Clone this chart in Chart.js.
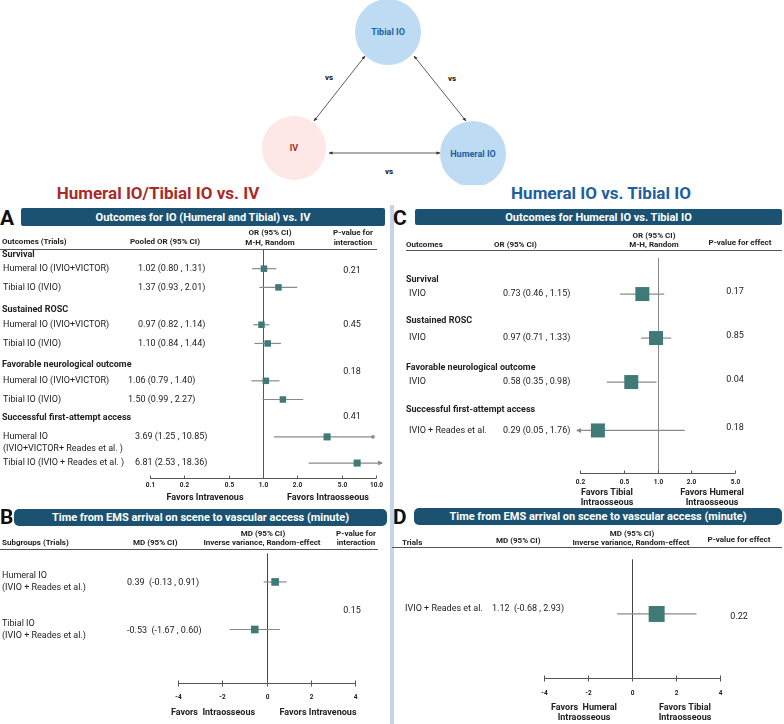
<!DOCTYPE html>
<html lang="en">
<head>
<meta charset="UTF-8">
<title>Humeral IO / Tibial IO vs. IV</title>
<script src="https://cdn.jsdelivr.net/npm/chart.js"></script>
<style>
    body { margin: 0; background: #fff; font-family: Roboto, Arial, sans-serif; }
    #page { position: relative; width: 784px; height: 724px; overflow: hidden; }
    .t { position: absolute; white-space: nowrap; line-height: 1; color: #222; }
    .bar { position: absolute; background: #1b5272; color: #fff; font-weight: bold; font-size: 11px;
           display: flex; align-items: center; justify-content: center; }
    .rule { position: absolute; height: 1px; background: #555; }
    canvas { position: absolute; }
</style>
</head>
<body>
<div id="page">
    <!-- network diagram -->
    <svg width="784" height="185" style="position:absolute;left:0;top:0">
        <defs>
            <marker id="ah" viewBox="0 0 10 10" refX="9" refY="5" markerWidth="5" markerHeight="5" orient="auto-start-reverse">
                <path d="M0,1 L10,5 L0,9 z" fill="#333"/>
            </marker>
        </defs>
        <circle cx="388" cy="32" r="33" fill="#bddcf4"/>
        <circle cx="294" cy="148" r="32" fill="#fde7e7"/>
        <circle cx="473" cy="154" r="33" fill="#bddcf4"/>
        <line x1="365" y1="56" x2="314" y2="121" stroke="#333" stroke-width="0.8" marker-start="url(#ah)" marker-end="url(#ah)"/>
        <line x1="414" y1="56" x2="466" y2="121" stroke="#333" stroke-width="0.8" marker-start="url(#ah)" marker-end="url(#ah)"/>
        <line x1="329" y1="153" x2="440" y2="153" stroke="#333" stroke-width="0.8" marker-start="url(#ah)" marker-end="url(#ah)"/>
        <g font-family="Roboto" font-weight="bold" text-anchor="middle" dominant-baseline="central">
            <text x="388" y="32" font-size="9" fill="#1f5f9e">Tibial IO</text>
            <text x="294" y="148" font-size="9" fill="#b22a2a">IV</text>
            <text x="473" y="154" font-size="9" fill="#1f5f9e">Humeral IO</text>
            <text x="329" y="77" font-size="8" fill="#111">vs</text>
            <text x="452" y="78" font-size="8" fill="#111">vs</text>
            <text x="389" y="171" font-size="8" fill="#111">vs</text>
        </g>
    </svg>

    <div style="position:absolute;left:390px;top:205px;width:4px;height:519px;background:#c4d5e8"></div>

    <div class="bar" style="left:21px;top:208px;width:364px;height:18px;border-radius:2px">Outcomes for IO (Humeral and Tibial) vs. IV</div>
    <div class="bar" style="left:415px;top:209px;width:367px;height:16px;border-radius:2px">Outcomes for Humeral IO vs. Tibial IO</div>
    <div class="bar" style="left:14px;top:509px;width:373px;height:17px;border-radius:5px">Time from EMS arrival on scene to vascular access (minute)</div>
    <div class="bar" style="left:414px;top:508px;width:368px;height:17px;border-radius:5px">Time from EMS arrival on scene to vascular access (minute)</div>

    <div class="rule" style="left:0;top:249px;width:377px"></div>
    <div class="rule" style="left:406px;top:250px;width:376px"></div>
    <div class="rule" style="left:0;top:549px;width:378px"></div>
    <div class="rule" style="left:392px;top:547px;width:390px"></div>

    <canvas id="chartA" width="390" height="266" style="left:0;top:244px"></canvas>
    <canvas id="chartC" width="392" height="262" style="left:392px;top:248px"></canvas>
    <canvas id="chartB" width="390" height="176" style="left:0;top:548px"></canvas>
    <canvas id="chartD" width="392" height="176" style="left:392px;top:548px"></canvas>
</div>

<script>
    // ---- data: panel A (IO vs IV, OR) ----
    var groupsA = ['Survival', 'Sustained ROSC', 'Favorable neurological outcome', 'Successful first-attempt access'];
    var labelsA = ['Humeral IO (IVIO+VICTOR)', 'Tibial IO (IVIO)',
                   'Humeral IO (IVIO+VICTOR)', 'Tibial IO (IVIO)',
                   'Humeral IO (IVIO+VICTOR)', 'Tibial IO (IVIO)',
                   'Humeral IO\n(IVIO+VICTOR+ Reades et al. )', 'Tibial IO (IVIO + Reades et al. )'];
    var orA = [1.02, 1.37, 0.97, 1.10, 1.06, 1.50, 3.69, 6.81];
    var loA = [0.80, 0.93, 0.82, 0.84, 0.79, 0.99, 1.25, 2.53];
    var hiA = [1.31, 2.01, 1.14, 1.44, 1.40, 2.27, 10.85, 18.36];
    var groupOfA = [0, 0, 1, 1, 2, 2, 3, 3];
    var pA = ['0.21', '0.45', '0.18', '0.41'];
    var ticksA = [0.1, 0.2, 0.5, 1.0, 2.0, 5.0, 10.0];
    var tickLabelsA = ['0.1', '0.2', '0.5', '1.0', '2.0', '5.0', '10.0'];

    // ---- data: panel C (humeral vs tibial, OR) ----
    var groupsC = ['Survival', 'Sustained ROSC', 'Favorable neurological outcome', 'Successful first-attempt access'];
    var labelsC = ['IVIO', 'IVIO', 'IVIO', 'IVIO + Reades et al.'];
    var orC = [0.73, 0.97, 0.58, 0.29];
    var loC = [0.46, 0.71, 0.35, 0.05];
    var hiC = [1.15, 1.33, 0.98, 1.76];
    var pC = ['0.17', '0.85', '0.04', '0.18'];
    var ticksC = [0.2, 0.5, 1.0, 2.0, 5.0];
    var tickLabelsC = ['0.2', '0.5', '1.0', '2.0', '5.0'];

    // ---- data: panel B (time to access, MD) ----
    var labelsB = ['Humeral IO\n(IVIO + Reades et al.)', 'Tibial IO\n(IVIO + Reades et al.)'];
    var mdB = [0.39, -0.53];
    var loB = [-0.13, -1.67];
    var hiB = [0.91, 0.60];
    var pB = '0.15';
    var ticksB = [-4, -2, 0, 2, 4];

    // ---- data: panel D (time to access, humeral vs tibial) ----
    var labelsD = ['IVIO + Reades et al.'];
    var mdD = [1.12];
    var loD = [-0.68];
    var hiD = [2.93];
    var pD = '0.22';
    var ticksD = [-4, -2, 0, 2, 4];

    // ---- page text ----
    var page = document.getElementById('page');
    function put(x, y, s, o) {
        o = o || {};
        var d = document.createElement('div');
        d.className = 't';
        d.textContent = s;
        d.style.left = x + 'px';
        d.style.top = y + 'px';
        d.style.fontSize = (o.size || 8) + 'px';
        d.style.fontWeight = o.bold === false ? 'normal' : 'bold';
        if (o.color) d.style.color = o.color;
        d.style.transform = o.center ? 'translate(-50%,-50%)' : 'translateY(-50%)';
        page.appendChild(d);
    }
    put(158, 193, 'Humeral IO/Tibial IO vs. IV', {size: 17, color: '#a82a2a', center: true});
    put(601, 193, 'Humeral IO vs. Tibial IO', {size: 17, color: '#1f5f9e', center: true});
    put(0, 218, 'A', {size: 21, color: '#111'});
    put(393, 218, 'C', {size: 21, color: '#111'});
    put(0, 517, 'B', {size: 21, color: '#111'});
    put(393, 517, 'D', {size: 21, color: '#111'});

    put(2, 242, 'Outcomes (Trials)');
    put(130, 242, 'Pooled OR (95% CI)');
    put(270, 233, 'OR (95% CI)', {center: true});
    put(270, 243, 'M-H, Random', {center: true});
    put(353, 233, 'P-value for', {center: true});
    put(353, 243, 'interaction', {center: true});

    put(406, 245, 'Outcomes');
    put(494, 245, 'OR (95% CI)');
    put(654, 236, 'OR (95% CI)', {center: true});
    put(654, 245, 'M-H, Random', {center: true});
    put(740, 243, 'P-value for effect', {center: true});

    put(2, 543, 'Subgroups (Trials)');
    put(133, 543, 'MD (95% CI)');
    put(263, 534, 'MD (95% CI)', {center: true});
    put(262, 543, 'Inverse variance, Random-effect', {center: true});
    put(356, 534, 'P-value for', {center: true});
    put(356, 543, 'interaction', {center: true});

    put(402, 543, 'Trials');
    put(496, 541, 'MD (95% CI)');
    put(632, 534, 'MD (95% CI)', {center: true});
    put(631, 543, 'Inverse variance, Random-effect', {center: true});
    put(739, 540, 'P-value for effect', {center: true});

    // ---- forest plot drawing ----
    var SQ = '#3f7a78';
    function ci(est, lo, hi, gap) {
        return est.toFixed(2) + (gap || ' ') + '(' + lo.toFixed(2) + ' , ' + hi.toFixed(2) + ')';
    }
    function font(size, bold) { return (bold ? 'bold ' : '') + size + 'px Roboto'; }

    function forestPlugin(o) {
        return {
            id: 'forest',
            beforeDatasetsDraw: function (chart) {
                var ctx = chart.ctx, a = chart.chartArea, x = chart.scales.x, y = chart.scales.y;
                ctx.save();
                ctx.strokeStyle = o.refColor;
                ctx.lineWidth = 1;
                var x0 = Math.round(x.getPixelForValue(o.ref)) + 0.5;
                ctx.beginPath(); ctx.moveTo(x0, a.top); ctx.lineTo(x0, a.bottom); ctx.stroke();

                ctx.strokeStyle = '#8a8a8a';
                ctx.fillStyle = '#8a8a8a';
                ctx.lineWidth = 1.2;
                o.lo.forEach(function (lo, i) {
                    var hi = o.hi[i];
                    var yy = y.getPixelForValue(o.rowPos[i]);
                    var x1 = x.getPixelForValue(Math.max(lo, x.min));
                    var x2 = x.getPixelForValue(Math.min(hi, x.max));
                    if (lo < x.min) x1 = a.left - 3;
                    if (hi > x.max) x2 = hi / x.max > 1.2 ? a.right + 6 : a.right - 3;
                    ctx.beginPath(); ctx.moveTo(x1, yy); ctx.lineTo(x2, yy); ctx.stroke();
                    if (lo < x.min) arrow(ctx, x1, yy, -1);
                    if (hi > x.max) {
                        if (hi / x.max > 1.2) arrow(ctx, x2, yy, 1);
                        else { ctx.beginPath(); ctx.arc(x2, yy, 1.8, 0, 2 * Math.PI); ctx.fill(); }
                    }
                });
                ctx.restore();
            },
            afterDraw: function (chart) {
                var ctx = chart.ctx, a = chart.chartArea, x = chart.scales.x, y = chart.scales.y;
                ctx.save();
                ctx.textBaseline = 'middle';
                // row texts
                o.texts.forEach(function (t) {
                    ctx.font = font(t.size || 9, t.bold);
                    ctx.fillStyle = '#222';
                    ctx.textAlign = t.align || 'left';
                    var yy = y.getPixelForValue(t.pos);
                    t.s.split('\n').forEach(function (line, k) { ctx.fillText(line, t.x, yy + k * 12); });
                });
                // axis
                var ay = Math.round(a.bottom) + 0.5;
                var xa = x.getPixelForValue(o.ticks[0]), xb = x.getPixelForValue(o.ticks[o.ticks.length - 1]);
                ctx.strokeStyle = '#555';
                ctx.lineWidth = 1;
                ctx.beginPath(); ctx.moveTo(xa, ay); ctx.lineTo(xb, ay); ctx.stroke();
                ctx.font = font(6.5, true);
                ctx.textAlign = 'center';
                ctx.fillStyle = '#222';
                o.ticks.forEach(function (v, i) {
                    var px = Math.round(x.getPixelForValue(v)) + 0.5;
                    ctx.beginPath(); ctx.moveTo(px, ay - o.tickUp); ctx.lineTo(px, ay + o.tickDown); ctx.stroke();
                    ctx.fillText(o.tickLabels[i], px, ay + o.tickGap);
                });
                ctx.font = font(9, true);
                o.favors.forEach(function (f) {
                    f.s.split('\n').forEach(function (line, k) { ctx.fillText(line, f.x, ay + o.favGap + k * 10); });
                });
                ctx.restore();
            }
        };
    }
    function arrow(ctx, px, py, dir) {
        ctx.beginPath();
        ctx.moveTo(px + dir * 1, py);
        ctx.lineTo(px - dir * 4, py - 2.5);
        ctx.lineTo(px - dir * 4, py + 2.5);
        ctx.closePath();
        ctx.fill();
    }

    function forest(id, o) {
        return new Chart(document.getElementById(id), {
            type: 'scatter',
            data: {
                datasets: [{
                    data: o.rowPos.map(function (r, i) { return {x: o.est[i], y: r}; }),
                    pointStyle: 'rect',
                    pointRadius: o.radius,
                    backgroundColor: SQ,
                    borderWidth: 0,
                    clip: false
                }]
            },
            options: {
                responsive: false,
                animation: false,
                events: [],
                layout: {padding: o.pad},
                plugins: {legend: {display: false}, tooltip: {enabled: false}},
                scales: {
                    x: {type: o.log ? 'logarithmic' : 'linear', min: o.xmin, max: o.xmax, display: false},
                    y: {type: 'linear', reverse: true, min: o.ymin, max: o.ymax, display: false}
                }
            },
            plugins: [forestPlugin(o)]
        });
    }

    // panel A layout
    var rowPosA = [0, 1, 3, 4, 6, 7, 9, 10.4];
    var headPosA = [-0.73, 2.21, 5.15, 7.99];
    var pPosA = [0.12, 3, 5.5, 7.93];
    var valXA = [138, 138, 128, 135];
    var textsA = [];
    groupsA.forEach(function (g, k) {
        textsA.push({s: g, x: 2, pos: headPosA[k], bold: true});
        textsA.push({s: pA[k], x: 352, pos: pPosA[k], align: 'center'});
    });
    labelsA.forEach(function (l, i) {
        textsA.push({s: l, x: 3, pos: rowPosA[i]});
        textsA.push({s: ci(orA[i], loA[i], hiA[i]), x: valXA[groupOfA[i]], pos: rowPosA[i]});
    });
    forest('chartA', {
        log: true, xmin: 0.1, xmax: 10, ymin: -1, ymax: 11.2,
        pad: {left: 150, right: 14, top: 6, bottom: 32},
        rowPos: rowPosA, est: orA, lo: loA, hi: hiA,
        radius: [4.6, 4.6, 4.6, 4.6, 4.6, 4.6, 5, 5],
        ref: 1, refColor: '#555',
        ticks: ticksA, tickLabels: tickLabelsA, tickUp: 3, tickDown: 0, tickGap: 7,
        favors: [{s: 'Favors Intravenous', x: 205}, {s: 'Favors Intraosseous', x: 328}], favGap: 19,
        texts: textsA
    });

    // panel C layout
    var rowPosC = [0, 1, 2, 3.1];
    var headPosC = [-0.33, 0.6, 1.67, 2.64];
    var textsC = [];
    groupsC.forEach(function (g, k) {
        textsC.push({s: g, x: 14, pos: headPosC[k], bold: true});
        textsC.push({s: labelsC[k], x: 17, pos: rowPosC[k]});
        textsC.push({s: ci(orC[k], loC[k], hiC[k]), x: 111, pos: rowPosC[k]});
        textsC.push({s: pC[k], x: 343, pos: rowPosC[k] - 0.06, align: 'center'});
    });
    forest('chartC', {
        log: true, xmin: 0.2, xmax: 5, ymin: -0.822, ymax: 4.067,
        pad: {left: 188, right: 49, top: 5, bottom: 37},
        rowPos: rowPosC, est: orC, lo: loC, hi: hiC,
        radius: 9.9,
        ref: 1, refColor: '#888',
        ticks: ticksC, tickLabels: tickLabelsC, tickUp: 3, tickDown: 0, tickGap: 9,
        favors: [{s: 'Favors Tibial\nIntraosseous', x: 215}, {s: 'Favors Humeral\nIntraosseous', x: 320}], favGap: 19,
        texts: textsC
    });

    // panel B layout
    var rowPosB = [0, 1];
    var textsB = [];
    labelsB.forEach(function (l, i) {
        textsB.push({s: l, x: 2, pos: rowPosB[i] - 0.12});
        textsB.push({s: ci(mdB[i], loB[i], hiB[i], '  '), x: 127, pos: rowPosB[i] + 0.02});
    });
    textsB.push({s: pB, x: 352, pos: 0.6, align: 'center'});
    forest('chartB', {
        log: false, xmin: -4, xmax: 4, ymin: -0.6, ymax: 2.125,
        pad: {left: 178, right: 35, top: 4, bottom: 41},
        rowPos: rowPosB, est: mdB, lo: loB, hi: hiB,
        radius: 5.4,
        ref: 0, refColor: '#444',
        ticks: ticksB, tickLabels: ticksB.map(String), tickUp: 3, tickDown: 3, tickGap: 14,
        favors: [{s: 'Favors  Intraosseous', x: 213}, {s: 'Favors Intravenous', x: 318}], favGap: 29,
        texts: textsB
    });

    // panel D layout
    var textsD = [
        {s: labelsD[0], x: 13, pos: -0.12},
        {s: ci(mdD[0], loD[0], hiD[0], '  '), x: 100, pos: -0.12},
        {s: pD, x: 347, pos: 0.06, align: 'center'}
    ];
    forest('chartD', {
        log: false, xmin: -4, xmax: 4, ymin: -1.21, ymax: 1.417,
        pad: {left: 152, right: 64, top: 4, bottom: 46},
        rowPos: [0], est: mdD, lo: loD, hi: hiD,
        radius: 11.3,
        ref: 0, refColor: '#444',
        ticks: ticksD, tickLabels: ticksD.map(String), tickUp: 3, tickDown: 3, tickGap: 15,
        favors: [{s: 'Favors  Humeral\nIntraosseous', x: 192}, {s: 'Favors Tibial\nIntraosseous', x: 293}], favGap: 29,
        texts: textsD
    });
</script>
</body>
</html>
